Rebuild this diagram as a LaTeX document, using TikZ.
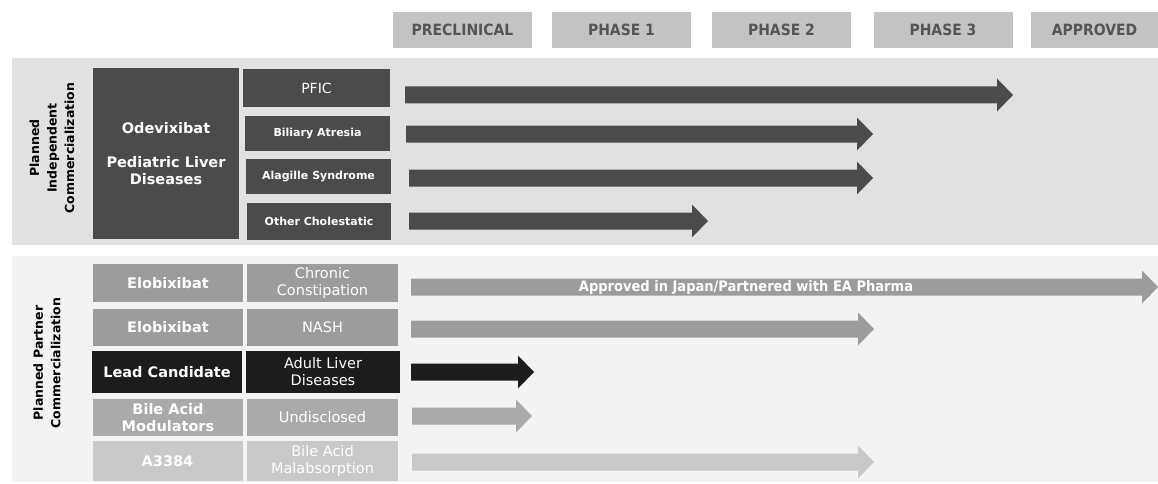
\documentclass[tikz,border=0pt]{standalone}
\usepackage{fontspec}
\setmainfont{DejaVu Sans}
\newfontfamily\condfont{DejaVu Sans Condensed}
\usetikzlibrary{positioning}

\definecolor{bandA}{HTML}{E1E1E1}
\definecolor{bandB}{HTML}{F3F3F3}
\definecolor{darkbox}{HTML}{4B4B4B}
\definecolor{midbox}{HTML}{9C9C9C}
\definecolor{leadbox}{HTML}{1C1C1C}
\definecolor{palebox}{HTML}{AAAAAA}
\definecolor{faintbox}{HTML}{C9C9C9}
\definecolor{headbox}{HTML}{C3C3C3}
\definecolor{headtext}{HTML}{555555}

% x start, x tip, y centre, colour
\newcommand{\progbar}[4]{%
  \fill[#4] (#1,#3-8.5) -- (#2-16,#3-8.5) -- (#2-16,#3-16.5) -- (#2,#3)
    -- (#2-16,#3+16.5) -- (#2-16,#3+8.5) -- (#1,#3+8.5) -- cycle;}

\begin{document}
\begin{tikzpicture}[x=1pt,y=-1pt,
    phase/.style={fill=headbox,text=headtext,minimum width=139pt,minimum height=36pt,
      inner sep=0pt,font=\condfont\bfseries\fontsize{15.5}{17}\selectfont},
    cell/.style={inner sep=0pt,align=center,text=white},
    drug/.style={cell,minimum width=150pt,font=\bfseries\fontsize{14.5}{17}\selectfont},
    indic/.style={cell,minimum width=151pt,font=\fontsize{14.5}{17}\selectfont},
    small/.style={cell,fill=darkbox,font=\bfseries\fontsize{11}{13}\selectfont},
    group/.style={rotate=90,align=center,font=\bfseries\fontsize{12.5}{17.5}\selectfont}]
   \useasboundingbox (0,0) rectangle (1158,484);
   \fill[white] (0,0) rectangle (1158,484);

   % phase headers
   \node[phase] (pre)  at (462.5,30) {PRECLINICAL};
   \node[phase] (ph1)  at (621.5,30) {PHASE 1};
   \node[phase] (ph2)  at (781.5,30) {PHASE 2};
   \node[phase] (ph3)  at (943,30)   {PHASE 3};
   \node[phase,minimum width=127pt] (appr) at (1094.5,30) {APPROVED};

   % bands
   \fill[bandA] (12,58) rectangle (1158,245);
   \fill[bandB] (12,256) rectangle (1158,482);

   % independent
   \node[group] (indep) at (52,148) {Planned\\Independent\\Commercialization};
   \node[cell,fill=darkbox,minimum width=146pt,minimum height=171pt,
         font=\bfseries\fontsize{14.5}{17}\selectfont] (odev) at (166,153.5)
         {Odevixibat\\[17pt]Pediatric Liver\\Diseases};
   \node[cell,fill=darkbox,minimum width=147pt,minimum height=38pt,
         font=\fontsize{14}{16}\selectfont] (pfic) at (316.5,88) {PFIC};
   \node[small,minimum width=145pt,minimum height=35pt] (ba)  at (317.5,133.5) {Biliary Atresia};
   \node[small,minimum width=145pt,minimum height=35pt] (as)  at (318.5,176.5) {Alagille Syndrome};
   \node[small,minimum width=144pt,minimum height=37pt] (oc)  at (319,221.5) {Other Cholestatic};

   \progbar{405}{1013}{95}{darkbox}
   \progbar{406}{873}{134}{darkbox}
   \progbar{409}{873}{178}{darkbox}
   \progbar{409}{708}{221}{darkbox}

   % partner
   \node[group] (partner) at (47,363) {Planned Partner\\Commercialization};
   \node[drug,fill=midbox,minimum height=38pt]  (elo1) at (168,283)   {Elobixibat};
   \node[indic,fill=midbox,minimum height=38pt] (cc)   at (322.5,283) {Chronic\\Constipation};
   \node[drug,fill=midbox,minimum height=37pt]  (elo2) at (168,327.5) {Elobixibat};
   \node[indic,fill=midbox,minimum height=37pt] (nash) at (322.5,327.5) {NASH};
   \node[drug,fill=leadbox,minimum height=42pt] (lead) at (167,372)   {Lead Candidate};
   \node[indic,fill=leadbox,minimum width=154pt,minimum height=42pt] (ald) at (323,372) {Adult Liver\\Diseases};
   \node[drug,fill=palebox,minimum height=37pt]  (bam) at (168,417.5) {Bile Acid\\Modulators};
   \node[indic,fill=palebox,minimum height=37pt] (und) at (322.5,417.5) {Undisclosed};
   \node[drug,fill=faintbox,minimum height=40pt]  (a33) at (167.5,461) {A3384};
   \node[indic,fill=faintbox,minimum height=40pt] (bamal) at (322.5,461) {Bile Acid\\Malabsorption};

   \progbar{411}{1158}{287}{midbox}
   \progbar{411}{874}{329}{midbox}
   \progbar{411}{534}{372}{leadbox}
   \progbar{412}{532}{416}{palebox}
   \progbar{412}{874}{462}{faintbox}
   \node[text=white,font=\condfont\bfseries\fontsize{14.5}{16}\selectfont] (ea) at (746,287)
        {Approved in Japan/Partnered with EA Pharma};
\end{tikzpicture}
\end{document}
